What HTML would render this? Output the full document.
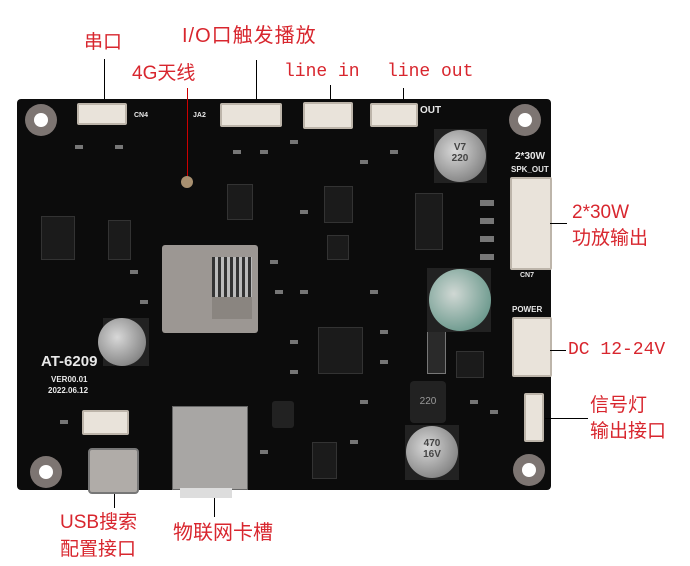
<!DOCTYPE html>
<html><head><meta charset="utf-8"><style>
*{margin:0;padding:0;box-sizing:border-box}
body{width:690px;height:566px;background:#fff;position:relative;overflow:hidden;font-family:"Liberation Sans","Noto Sans CJK SC",sans-serif}
.a{position:absolute}
.lbl{position:absolute;color:#d8262e;font-size:19px;line-height:20px;white-space:nowrap;font-family:"Liberation Sans","Noto Sans CJK SC",sans-serif}
.mono{font-family:"Liberation Mono","Noto Sans CJK SC",monospace;font-size:17px}
.ln{position:absolute;background:#000}
.board{position:absolute;left:17px;top:99px;width:534px;height:391px;background:#0c0c0c;border-radius:4px}
.hole{position:absolute;width:32px;height:32px;border-radius:50%;background:#7d7572}
.hole::after{content:"";position:absolute;left:9px;top:9px;width:14px;height:14px;border-radius:50%;background:#fff}
.conn{position:absolute;background:#e9e3da;border:2px solid #bdb5aa;border-radius:2px}
.chip{position:absolute;background:#1b1b1b;border:1px solid #333}
.cap{position:absolute;border-radius:50%;background:radial-gradient(circle at 40% 40%,#d8d8d8,#8a8a8a 70%,#555);color:#444;font-size:10px;font-weight:bold;text-align:center}
.wt{position:absolute;color:#e8e8e8;font-size:7px;font-weight:bold;white-space:nowrap}
.sm{position:absolute;width:8px;height:4px;background:#777}
</style></head><body>

<div class="lbl" style="left:84px;top:33px">串口</div>
<div class="ln" style="left:104px;top:59px;width:1px;height:41px"></div>
<div class="lbl" style="left:182px;top:26px;font-size:20px;letter-spacing:1px">I/O口触发播放</div>
<div class="ln" style="left:256px;top:60px;width:1px;height:42px"></div>
<div class="lbl" style="left:132px;top:64px">4G天线</div>
<div class="lbl mono" style="left:284px;top:62px;font-size:18px">line in</div>
<div class="ln" style="left:330px;top:85px;width:1px;height:16px"></div>
<div class="lbl mono" style="left:387px;top:62px;font-size:18px">line out</div>
<div class="ln" style="left:403px;top:88px;width:1px;height:14px"></div>

<div class="board"></div>
<div class="hole" style="left:25px;top:104px"></div>
<div class="hole" style="left:509px;top:104px"></div>
<div class="hole" style="left:30px;top:456px"></div>
<div class="hole" style="left:513px;top:454px"></div>

<div class="conn" style="left:77px;top:103px;width:50px;height:22px"></div>
<div class="conn" style="left:220px;top:103px;width:62px;height:24px"></div>
<div class="conn" style="left:303px;top:102px;width:50px;height:27px"></div>
<div class="conn" style="left:370px;top:103px;width:48px;height:24px"></div>
<div class="wt" style="left:420px;top:105px;font-size:10px">OUT</div>
<div class="wt" style="left:134px;top:112px">CN4</div>
<div class="wt" style="left:193px;top:112px">JA2</div>

<!-- small passives texture -->
<div class="sm" style="left:75px;top:145px"></div><div class="sm" style="left:115px;top:145px"></div>
<div class="sm" style="left:233px;top:150px"></div><div class="sm" style="left:260px;top:150px"></div>
<div class="sm" style="left:290px;top:140px"></div><div class="sm" style="left:360px;top:160px"></div>
<div class="sm" style="left:390px;top:150px"></div><div class="sm" style="left:300px;top:210px"></div>
<div class="sm" style="left:270px;top:260px"></div><div class="sm" style="left:275px;top:290px"></div>
<div class="sm" style="left:300px;top:290px"></div><div class="sm" style="left:370px;top:290px"></div>
<div class="sm" style="left:380px;top:330px"></div><div class="sm" style="left:380px;top:360px"></div>
<div class="sm" style="left:290px;top:340px"></div><div class="sm" style="left:290px;top:370px"></div>
<div class="sm" style="left:360px;top:400px"></div><div class="sm" style="left:350px;top:440px"></div>
<div class="sm" style="left:470px;top:400px"></div><div class="sm" style="left:490px;top:410px"></div>
<div class="sm" style="left:140px;top:300px"></div><div class="sm" style="left:130px;top:270px"></div>
<div class="sm" style="left:60px;top:420px"></div><div class="sm" style="left:260px;top:450px"></div>
<div class="sm" style="left:480px;top:200px;width:14px;height:6px"></div>
<div class="sm" style="left:480px;top:218px;width:14px;height:6px"></div>
<div class="sm" style="left:480px;top:236px;width:14px;height:6px"></div>
<div class="sm" style="left:480px;top:254px;width:14px;height:6px"></div>

<div class="a" style="left:187px;top:88px;width:1px;height:92px;background:#c00"></div>
<div class="a" style="left:181px;top:176px;width:12px;height:12px;border-radius:50%;background:#a89070"></div>

<div class="chip" style="left:41px;top:216px;width:34px;height:44px"></div>
<div class="chip" style="left:108px;top:220px;width:23px;height:40px"></div>
<div class="chip" style="left:227px;top:184px;width:26px;height:36px"></div>
<div class="chip" style="left:324px;top:186px;width:29px;height:37px"></div>
<div class="chip" style="left:327px;top:235px;width:22px;height:25px"></div>
<div class="chip" style="left:415px;top:193px;width:28px;height:57px"></div>
<div class="chip" style="left:318px;top:327px;width:45px;height:47px"></div>
<div class="chip" style="left:456px;top:351px;width:28px;height:27px"></div>
<div class="chip" style="left:312px;top:442px;width:25px;height:37px"></div>
<div class="a" style="left:410px;top:381px;width:36px;height:42px;background:#222;border-radius:4px;color:#999;font-size:10px;text-align:center;line-height:42px">220</div>
<div class="a" style="left:272px;top:401px;width:22px;height:27px;background:#222;border-radius:3px"></div>
<div class="a" style="left:427px;top:331px;width:19px;height:43px;background:#2a2a2a;border:1px solid #777"></div>

<div class="a" style="left:162px;top:245px;width:96px;height:88px;background:#9c9793;border-radius:3px"></div>
<div class="a" style="left:212px;top:257px;width:40px;height:40px;background:repeating-linear-gradient(90deg,#333 0 3px,#bbb 3px 6px)"></div>
<div class="a" style="left:212px;top:297px;width:40px;height:22px;background:#8a8580"></div>

<div class="a" style="left:434px;top:129px;width:53px;height:54px;background:#222"></div>
<div class="cap" style="left:434px;top:130px;width:52px;height:52px;padding-top:12px">V7<br>220</div>
<div class="a" style="left:427px;top:268px;width:64px;height:64px;background:#222"></div>
<div class="cap" style="left:429px;top:269px;width:62px;height:62px;background:radial-gradient(circle at 40% 40%,#d0d8d4,#6d9a8e 75%,#555)"></div>
<div class="a" style="left:103px;top:318px;width:46px;height:48px;background:#222"></div>
<div class="cap" style="left:98px;top:318px;width:48px;height:48px"></div>
<div class="a" style="left:405px;top:425px;width:54px;height:55px;background:#222"></div>
<div class="cap" style="left:406px;top:426px;width:52px;height:52px;padding-top:12px">470<br>16V</div>

<div class="conn" style="left:510px;top:177px;width:42px;height:93px"></div>
<div class="conn" style="left:512px;top:317px;width:40px;height:60px"></div>
<div class="conn" style="left:524px;top:393px;width:20px;height:49px"></div>
<div class="wt" style="left:515px;top:151px;font-size:10px">2*30W</div>
<div class="wt" style="left:511px;top:165px;font-size:8px">SPK_OUT</div>
<div class="wt" style="left:512px;top:305px;font-size:8px">POWER</div>
<div class="wt" style="left:520px;top:272px">CN7</div>

<div class="wt" style="left:41px;top:353px;font-size:15px">AT-6209</div>
<div class="wt" style="left:51px;top:375px;font-size:8px">VER00.01</div>
<div class="wt" style="left:48px;top:386px;font-size:8px">2022.06.12</div>
<div class="conn" style="left:82px;top:410px;width:47px;height:25px"></div>
<div class="a" style="left:88px;top:448px;width:51px;height:46px;background:#b0aca8;border:2px solid #777;border-radius:4px"></div>
<div class="a" style="left:172px;top:406px;width:76px;height:84px;background:#a8a6a4;border:1px solid #666"></div>
<div class="a" style="left:180px;top:488px;width:52px;height:10px;background:#ddd"></div>

<div class="ln" style="left:550px;top:223px;width:17px;height:1px"></div>
<div class="lbl" style="left:572px;top:203px">2*30W</div>
<div class="lbl" style="left:572px;top:229px">功放输出</div>
<div class="ln" style="left:550px;top:350px;width:16px;height:1px"></div>
<div class="lbl mono" style="left:568px;top:340px;font-size:18px">DC 12-24V</div>
<div class="ln" style="left:545px;top:418px;width:43px;height:1px"></div>
<div class="lbl" style="left:590px;top:396px">信号灯</div>
<div class="lbl" style="left:590px;top:422px">输出接口</div>

<div class="ln" style="left:114px;top:494px;width:1px;height:14px"></div>
<div class="lbl" style="left:60px;top:513px">USB搜索</div>
<div class="lbl" style="left:60px;top:540px">配置接口</div>
<div class="ln" style="left:214px;top:498px;width:1px;height:19px"></div>
<div class="lbl" style="left:173px;top:523px;font-size:20px">物联网卡槽</div>
</body></html>
